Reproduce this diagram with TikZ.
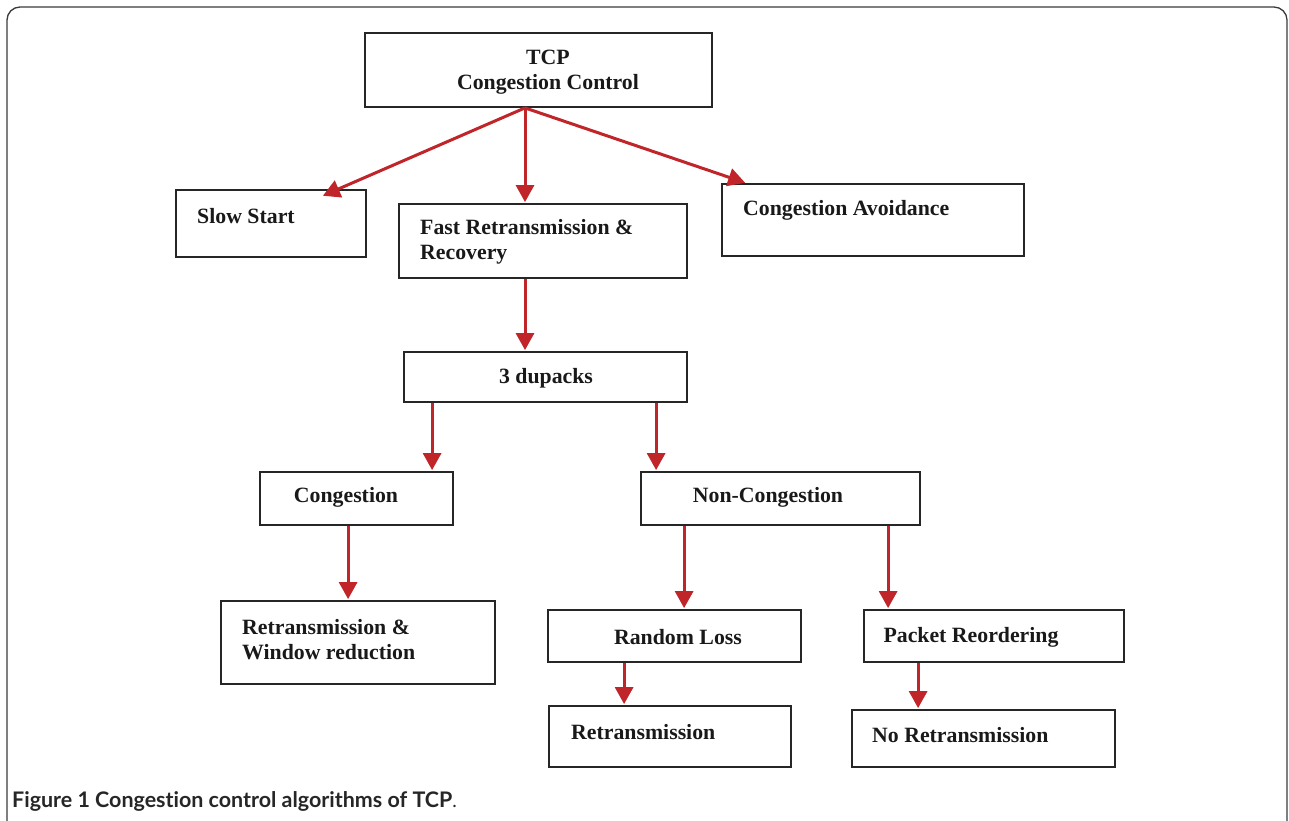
\documentclass[tikz,border=0pt]{standalone}
\usepackage{fontspec}
\setmainfont{Liberation Serif}
\newfontfamily\capfont[Ligatures=NoCommon]{Lato}
\usetikzlibrary{arrows.meta,calc}
\definecolor{arrowred}{HTML}{C0252A}
\definecolor{framegray}{HTML}{3A3A3A}
\begin{document}
\begin{tikzpicture}[x=1pt,y=-1pt,
  box/.style={draw=black!85,line width=1.8pt,rectangle,inner sep=0pt},
  txt/.style={font=\fontsize{21.8}{25}\selectfont\bfseries,inner sep=0pt,text=black!90},
  arr/.style={draw=arrowred,line width=3pt,-{Triangle[length=17pt,width=18pt]},shorten >=1pt}]
\useasboundingbox (0,0) rectangle (1289,820);
\clip (0,0) rectangle (1289,820);
% frame
\draw[framegray,line width=1.3pt,rounded corners=13pt] (7,840) -- (7,7) -- (1287,7) -- (1287,840);
% boxes
\node[box,minimum width=347,minimum height=74] (tcp) at (538.5,70) {};
\node[box,minimum width=190,minimum height=67] (ss) at (271,223.5) {};
\node[box,minimum width=288,minimum height=74] (frr) at (543,241) {};
\node[box,minimum width=302,minimum height=72] (ca) at (873,220) {};
\node[box,minimum width=283,minimum height=50] (dup) at (545.5,377) {};
\node[box,minimum width=193,minimum height=53] (cong) at (356.5,498.5) {};
\node[box,minimum width=279,minimum height=53] (ncong) at (780.5,498.5) {};
\node[box,minimum width=274,minimum height=83] (rwr) at (358,642.5) {};
\node[box,minimum width=253,minimum height=52] (rl) at (674.5,636) {};
\node[box,minimum width=260,minimum height=52] (pr) at (994,636) {};
\node[box,minimum width=242,minimum height=61] (rt) at (670,736.5) {};
\node[box,minimum width=263,minimum height=57] (nrt) at (983.5,738.5) {};
% texts
\node[txt,align=center] (tcp-t) at (548,72) {TCP\\Congestion Control};
\node[txt,anchor=west] (ss-t) at (197,216) {Slow Start};
\node[txt,anchor=west,align=left] (frr-t) at (420,242) {Fast Retransmission \&\\Recovery};
\node[txt,anchor=west] (ca-t) at (743,210) {Congestion Avoidance};
\node[txt] (dup-t) at (546,378) {3 dupacks};
\node[txt] (cong-t) at (346,497) {Congestion};
\node[txt] (ncong-t) at (768,497) {Non-Congestion};
\node[txt,anchor=west,align=left] (rwr-t) at (242,639.5) {Retransmission \&\\Window reduction};
\node[txt] (rl-t) at (678,637) {Random Loss};
\node[txt] (pr-t) at (971,637) {Packet Reordering};
\node[txt,anchor=west] (rt-t) at (571,732) {Retransmission};
\node[txt,anchor=west] (nrt-t) at (872,735) {No Retransmission};
% arrows
\coordinate (src) at ([xshift=-13.5pt]tcp.south);
\draw[arr] (src) -- ([xshift=51pt,yshift=-7pt]ss.north);
\draw[arr] (src) -- ([xshift=-18pt]frr.north);
\draw[arr] (src) -- ([xshift=25pt]ca.north west);
\draw[arr] ([xshift=-18pt]frr.south) -- ([xshift=-20.5pt]dup.north);
\draw[arr] ([xshift=29pt]dup.south west) -- ([xshift=173pt]cong.north west);
\draw[arr] ([xshift=253pt]dup.south west) -- ([xshift=16pt]ncong.north west);
\draw[arr] ([xshift=89pt]cong.south west) -- ([xshift=128pt]rwr.north west);
\draw[arr] ([xshift=44pt]ncong.south west) -- ([xshift=137pt]rl.north west);
\draw[arr] ([xshift=248pt]ncong.south west) -- ([xshift=25pt]pr.north west);
\draw[arr] ([xshift=77pt]rl.south west) -- ([xshift=76pt]rt.north west);
\draw[arr] ([xshift=55pt]pr.south west) -- ([xshift=67pt]nrt.north west);
% caption
\node[anchor=west,inner sep=0pt,text=black!85] (cap) at (12,801) {\resizebox{440pt}{!}{\capfont\bfseries Figure 1 Congestion control algorithms of TCP}\capfont\fontsize{19}{22}\selectfont.};
\end{tikzpicture}
\end{document}
